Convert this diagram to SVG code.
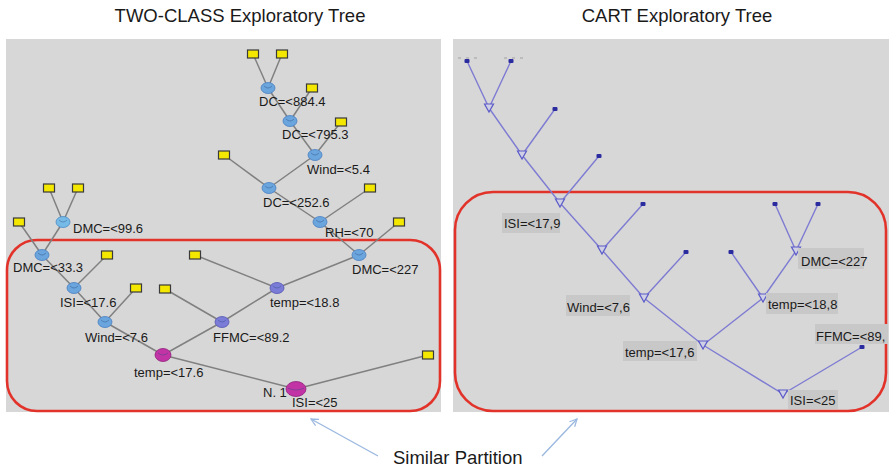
<svg xmlns="http://www.w3.org/2000/svg" width="889" height="469" viewBox="0 0 889 469">
<defs>
<style>
.title{font-family:"Liberation Sans",Arial,sans-serif;font-size:18.5px;fill:#1a1a1a}
.lbl{font-family:"Liberation Sans",Arial,sans-serif;font-size:13px;fill:#1a1a1a}
.panel{fill:#d8d7d7}
.red{fill:none;stroke:#e2332b;stroke-width:2.6}
.e{stroke:#808080;stroke-width:1.5;fill:none}
.ce{stroke:#7d7bd2;stroke-width:1.4;fill:none}
.leaf{fill:#f4e700;stroke:#3a3a3a;stroke-width:1.2}
.nb{fill:#6aa5de;stroke:#4a7fbf;stroke-width:0.8}
.nc{fill:#76bbe8;stroke:#4d8cc4;stroke-width:0.8}
.np{fill:#7a7cd8;stroke:#5557b0;stroke-width:0.8}
.nm{fill:#c234a6;stroke:#8e1f7a;stroke-width:0.8}
.notch{fill:none;stroke:#2f4f80;stroke-width:0.8;opacity:0.55}
.dot{fill:#2b2ba0}
.tri{fill:#cfcfe6;stroke:#5a5ac8;stroke-width:1.2}
.lb{fill:#c9c8c8}
.arr{stroke:#9cb9e0;stroke-width:1.4;fill:none}
</style>
<marker id="ah" viewBox="0 0 10 10" refX="9" refY="5" markerWidth="9" markerHeight="9" orient="auto" markerUnits="userSpaceOnUse">
<path d="M1,1 L9,5 L1,9" fill="none" stroke="#9cb9e0" stroke-width="1.4"/>
</marker>
</defs>
<rect width="889" height="469" fill="#ffffff"/>
<text class="title" x="240" y="22" text-anchor="middle">TWO-CLASS Exploratory Tree</text>
<text class="title" x="677" y="22" text-anchor="middle">CART Exploratory Tree</text>
<rect class="panel" x="6" y="39" width="435" height="373"/>
<rect class="panel" x="453" y="39" width="436" height="373"/>
<rect class="red" x="7" y="240" width="433" height="171" rx="30"/>
<rect class="red" x="455" y="192" width="431" height="219" rx="38"/>

<g id="connectors">
<g id="left-edges">
<line class="e" x1="253" y1="54" x2="268" y2="88"/>
<line class="e" x1="282" y1="54" x2="268" y2="88"/>
<line class="e" x1="268" y1="88" x2="290" y2="121"/>
<line class="e" x1="312" y1="88" x2="290" y2="121"/>
<line class="e" x1="290" y1="121" x2="315" y2="155"/>
<line class="e" x1="341" y1="122" x2="315" y2="155"/>
<line class="e" x1="315" y1="155" x2="269" y2="188"/>
<line class="e" x1="224" y1="155" x2="269" y2="188"/>
<line class="e" x1="269" y1="188" x2="320" y2="222"/>
<line class="e" x1="370" y1="188" x2="320" y2="222"/>
<line class="e" x1="320" y1="222" x2="359" y2="255"/>
<line class="e" x1="399" y1="222" x2="359" y2="255"/>
<line class="e" x1="359" y1="255" x2="277" y2="288"/>
<line class="e" x1="195" y1="255" x2="277" y2="288"/>
<line class="e" x1="277" y1="288" x2="222" y2="322"/>
<line class="e" x1="165" y1="289" x2="222" y2="322"/>
<line class="e" x1="222" y1="322" x2="163" y2="355"/>
<line class="e" x1="49" y1="188" x2="63" y2="222"/>
<line class="e" x1="78" y1="188" x2="63" y2="222"/>
<line class="e" x1="63" y1="222" x2="42" y2="255"/>
<line class="e" x1="19" y1="222" x2="42" y2="255"/>
<line class="e" x1="42" y1="255" x2="74" y2="288"/>
<line class="e" x1="107" y1="255" x2="74" y2="288"/>
<line class="e" x1="74" y1="288" x2="105" y2="322"/>
<line class="e" x1="136" y1="288" x2="105" y2="322"/>
<line class="e" x1="105" y1="322" x2="163" y2="355"/>
<line class="e" x1="163" y1="355" x2="296" y2="389"/>
<line class="e" x1="428" y1="355" x2="296" y2="389"/>
</g>
<g id="right-edges">
<line class="ce" x1="467" y1="61" x2="489" y2="108"/>
<line class="ce" x1="511" y1="61" x2="489" y2="108"/>
<line class="ce" x1="489" y1="108" x2="522" y2="155"/>
<line class="ce" x1="555" y1="109" x2="522" y2="155"/>
<line class="ce" x1="522" y1="155" x2="560" y2="203"/>
<line class="ce" x1="599" y1="156" x2="560" y2="203"/>
<line class="ce" x1="560" y1="203" x2="602" y2="250"/>
<line class="ce" x1="643" y1="204" x2="602" y2="250"/>
<line class="ce" x1="602" y1="250" x2="644" y2="298"/>
<line class="ce" x1="686" y1="252" x2="644" y2="298"/>
<line class="ce" x1="644" y1="298" x2="703" y2="345"/>
<line class="ce" x1="775" y1="204" x2="796" y2="251"/>
<line class="ce" x1="818" y1="204" x2="796" y2="251"/>
<line class="ce" x1="796" y1="251" x2="763" y2="298"/>
<line class="ce" x1="731" y1="252" x2="763" y2="298"/>
<line class="ce" x1="763" y1="298" x2="703" y2="345"/>
<line class="ce" x1="703" y1="345" x2="783" y2="394"/>
<line class="ce" x1="862" y1="347" x2="783" y2="394"/>
<line x1="458" y1="58" x2="480" y2="58" stroke="#a0a0a0" stroke-width="1" stroke-dasharray="3,5"/>
<line x1="504" y1="58" x2="527" y2="58" stroke="#a0a0a0" stroke-width="1" stroke-dasharray="3,5"/>
</g>
<g id="callout-arrows">
<line class="arr" x1="378" y1="456" x2="311" y2="419" marker-end="url(#ah)"/>
<line class="arr" x1="542" y1="456" x2="577" y2="419" marker-end="url(#ah)"/>
</g>
</g>

<g id="left-tree">
<g id="leafA"><rect class="leaf" x="247.5" y="50" width="11" height="8"/></g>
<g id="leafB"><rect class="leaf" x="276.5" y="50" width="11" height="8"/></g>
<g id="leafC"><rect class="leaf" x="306.5" y="84" width="11" height="8"/></g>
<g id="leafD"><rect class="leaf" x="335.5" y="118" width="11" height="8"/></g>
<g id="leafE"><rect class="leaf" x="218.5" y="151" width="11" height="8"/></g>
<g id="leafF"><rect class="leaf" x="364.5" y="184" width="11" height="8"/></g>
<g id="leafG"><rect class="leaf" x="393.5" y="218" width="11" height="8"/></g>
<g id="leafH"><rect class="leaf" x="422.5" y="351" width="11" height="8"/></g>
<g id="leafI"><rect class="leaf" x="189.5" y="251" width="11" height="8"/></g>
<g id="leafJ"><rect class="leaf" x="159.5" y="285" width="11" height="8"/></g>
<g id="leafK"><rect class="leaf" x="43.5" y="184" width="11" height="8"/></g>
<g id="leafL"><rect class="leaf" x="72.5" y="184" width="11" height="8"/></g>
<g id="leafM"><rect class="leaf" x="13.5" y="218" width="11" height="8"/></g>
<g id="leafN"><rect class="leaf" x="101.5" y="251" width="11" height="8"/></g>
<g id="leafO"><rect class="leaf" x="130.5" y="284" width="11" height="8"/></g>

<g id="n-dc884"><ellipse class="nb" cx="268" cy="88" rx="7" ry="5.5"/><path class="notch" d="M264,86 Q268,90 272,86"/><text class="lbl" x="259" y="106">DC=&lt;884.4</text></g>
<g id="n-dc795"><ellipse class="nb" cx="290" cy="121" rx="7" ry="5.5"/><path class="notch" d="M286,119 Q290,123 294,119"/><text class="lbl" x="282" y="139">DC=&lt;795.3</text></g>
<g id="n-wind54"><ellipse class="nb" cx="315" cy="155" rx="7" ry="5.5"/><path class="notch" d="M311,153 Q315,157 319,153"/><text class="lbl" x="307" y="174">Wind=&lt;5.4</text></g>
<g id="n-dc252"><ellipse class="nb" cx="269" cy="188" rx="7" ry="5.5"/><path class="notch" d="M265,186 Q269,190 273,186"/><text class="lbl" x="263" y="207">DC=&lt;252.6</text></g>
<g id="n-rh70"><ellipse class="nb" cx="320" cy="222" rx="7" ry="5.5"/><path class="notch" d="M316,220 Q320,224 324,220"/><text class="lbl" x="325" y="237">RH=&lt;70</text></g>
<g id="n-dmc227"><ellipse class="nb" cx="359" cy="255" rx="7" ry="5.5"/><path class="notch" d="M355,253 Q359,257 363,253"/><text class="lbl" x="352" y="274">DMC=&lt;227</text></g>
<g id="n-temp188"><ellipse class="np" cx="277" cy="288" rx="7" ry="5.5"/><path class="notch" d="M273,286 Q277,290 281,286"/><text class="lbl" x="270" y="307">temp=&lt;18.8</text></g>
<g id="n-ffmc892"><ellipse class="np" cx="222" cy="322" rx="7" ry="5.5"/><path class="notch" d="M218,320 Q222,324 226,320"/><text class="lbl" x="213" y="342">FFMC=&lt;89.2</text></g>
<g id="n-dmc996"><ellipse class="nc" cx="63" cy="222" rx="7" ry="5.5"/><path class="notch" d="M59,220 Q63,224 67,220"/><text class="lbl" x="73" y="233">DMC=&lt;99.6</text></g>
<g id="n-dmc333"><ellipse class="nb" cx="42" cy="255" rx="7" ry="5.5"/><path class="notch" d="M38,253 Q42,257 46,253"/><text class="lbl" x="13" y="272">DMC=&lt;33.3</text></g>
<g id="n-isi176"><ellipse class="nb" cx="74" cy="288" rx="7" ry="5.5"/><path class="notch" d="M70,286 Q74,290 78,286"/><text class="lbl" x="60" y="307">ISI=&lt;17.6</text></g>
<g id="n-wind76"><ellipse class="nb" cx="105" cy="322" rx="7" ry="5.5"/><path class="notch" d="M101,320 Q105,324 109,320"/><text class="lbl" x="85" y="342">Wind=&lt;7.6</text></g>
<g id="n-temp176"><ellipse class="nm" cx="163" cy="355" rx="8" ry="6.5"/><path class="notch" d="M158,353 Q163,357 168,353"/><text class="lbl" x="134" y="377">temp=&lt;17.6</text></g>
<g id="n-root-left"><ellipse class="nm" cx="296" cy="389" rx="10" ry="7.5"/><path class="notch" d="M288,388 Q296,392 304,388"/><text class="lbl" x="263" y="397">N. 1</text><text class="lbl" x="292" y="407">ISI=&lt;25</text></g>
</g>

<g id="right-tree">
<g id="d1"><rect class="dot" x="464.5" y="59" width="5" height="4" rx="1"/></g>
<g id="d2"><rect class="dot" x="508.5" y="59" width="5" height="4" rx="1"/></g>
<g id="d3"><rect class="dot" x="552.5" y="107" width="5" height="4" rx="1"/></g>
<g id="d4"><rect class="dot" x="596.5" y="154" width="5" height="4" rx="1"/></g>
<g id="d5"><rect class="dot" x="640.5" y="202" width="5" height="4" rx="1"/></g>
<g id="d6"><rect class="dot" x="683.5" y="250" width="5" height="4" rx="1"/></g>
<g id="d7"><rect class="dot" x="728.5" y="250" width="5" height="4" rx="1"/></g>
<g id="d8"><rect class="dot" x="772.5" y="202" width="5" height="4" rx="1"/></g>
<g id="d9"><rect class="dot" x="815.5" y="202" width="5" height="4" rx="1"/></g>
<g id="d10"><rect class="dot" x="859.5" y="345" width="5" height="4" rx="1"/></g>

<g id="t1"><polygon class="tri" points="484.5,104 493.5,104 489,112"/></g>
<g id="t2"><polygon class="tri" points="517.5,151 526.5,151 522,159"/></g>
<g id="t3-isi179"><polygon class="tri" points="555.5,199 564.5,199 560,207"/><rect class="lb" x="502" y="213" width="58" height="20"/><text class="lbl" x="504" y="228">ISI=&lt;17,9</text></g>
<g id="t4"><polygon class="tri" points="597.5,246 606.5,246 602,254"/></g>
<g id="t5-wind76"><polygon class="tri" points="639.5,294 648.5,294 644,302"/><rect class="lb" x="566" y="295" width="64" height="21"/><text class="lbl" x="567" y="312">Wind=&lt;7,6</text></g>
<g id="t6-temp176"><polygon class="tri" points="698.5,341 707.5,341 703,349"/><rect class="lb" x="623" y="341" width="74" height="20"/><text class="lbl" x="625" y="357">temp=&lt;17,6</text></g>
<g id="t7-temp188"><polygon class="tri" points="758.5,294 767.5,294 763,302"/><rect class="lb" x="766" y="293" width="72" height="21"/><text class="lbl" x="768" y="309">temp=&lt;18,8</text></g>
<g id="t8-dmc227"><polygon class="tri" points="791.5,247 800.5,247 796,255"/><rect class="lb" x="798" y="248" width="66" height="21"/><text class="lbl" x="801" y="266">DMC=&lt;227</text></g>
<g id="ffmc89"><rect class="lb" x="815" y="324" width="73" height="20"/><text class="lbl" x="816" y="341">FFMC=&lt;89,</text></g>
<g id="t9-root"><polygon class="tri" points="778.5,390 787.5,390 783,398"/><rect class="lb" x="788" y="390" width="50" height="19"/><text class="lbl" x="790" y="405">ISI=&lt;25</text></g>
</g>

<text class="title" x="393" y="464">Similar Partition</text>
</svg>
